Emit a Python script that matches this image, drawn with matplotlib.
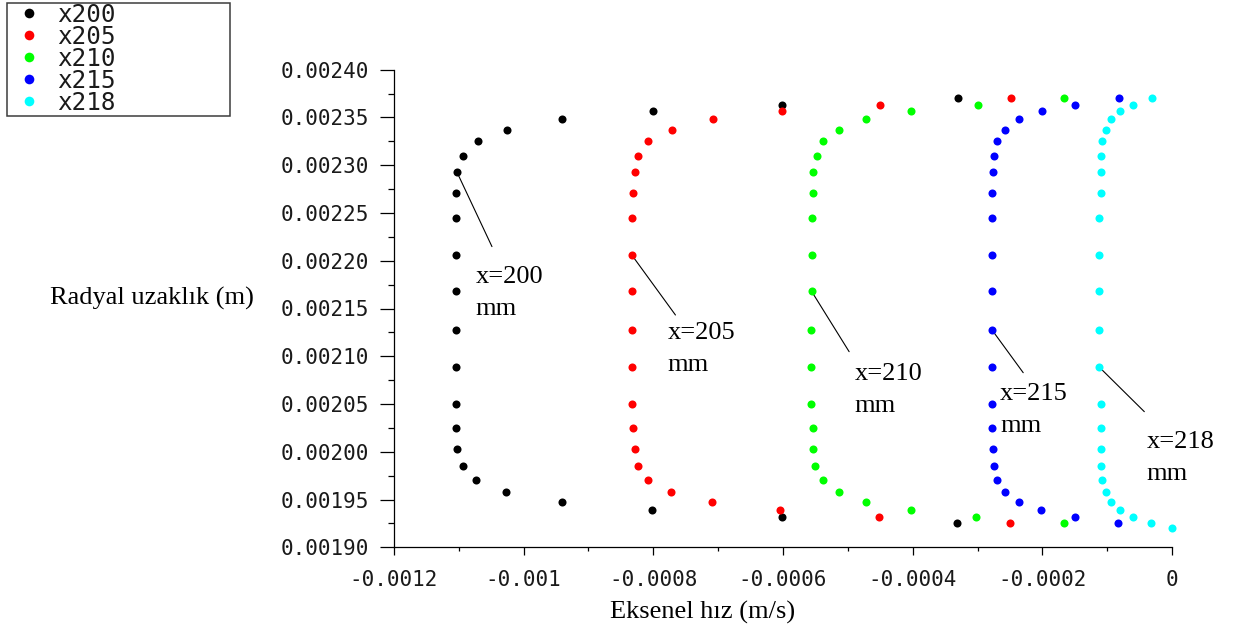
import matplotlib
matplotlib.use("Agg")
import matplotlib.pyplot as plt
from matplotlib.ticker import MultipleLocator, FuncFormatter
from matplotlib.patches import Rectangle

# ---------------- data ----------------
radial = [0.0023705, 0.0023635, 0.0023563, 0.0023482, 0.0023373, 0.0023251,
          0.0023101, 0.0022929, 0.0022707, 0.0022451, 0.0022058, 0.0021681,
          0.0021279, 0.0020885, 0.0020504, 0.0020249, 0.0020029, 0.0019854,
          0.0019702, 0.0019579, 0.0019471, 0.0019391, 0.0019317, 0.0019254]
radial_218 = radial + [0.0019202]

x200 = [-0.000330, -0.000601, -0.000800, -0.000941, -0.001026, -0.001071,
        -0.001093, -0.001103, -0.001105, -0.001105, -0.001105, -0.001105,
        -0.001105, -0.001105, -0.001105, -0.001105, -0.001103, -0.001093,
        -0.001073, -0.001027, -0.000941, -0.000802, -0.000602, -0.000332]
x205 = [-0.000248, -0.000450, -0.000602, -0.000708, -0.000771, -0.000808,
        -0.000823, -0.000829, -0.000831, -0.000833, -0.000833, -0.000833,
        -0.000833, -0.000833, -0.000833, -0.000831, -0.000829, -0.000823,
        -0.000808, -0.000773, -0.000709, -0.000605, -0.000452, -0.000250]
x210 = [-0.000166, -0.000300, -0.000402, -0.000472, -0.000514, -0.000538,
        -0.000548, -0.000554, -0.000554, -0.000556, -0.000556, -0.000556,
        -0.000557, -0.000557, -0.000557, -0.000554, -0.000554, -0.000550,
        -0.000538, -0.000514, -0.000472, -0.000402, -0.000303, -0.000167]
x215 = [-0.000082, -0.000150, -0.000200, -0.000236, -0.000258, -0.000270,
        -0.000274, -0.000276, -0.000278, -0.000278, -0.000278, -0.000278,
        -0.000278, -0.000278, -0.000278, -0.000277, -0.000276, -0.000274,
        -0.000270, -0.000258, -0.000236, -0.000202, -0.000150, -0.000084]
x218 = [-0.000031, -0.000060, -0.000080, -0.000094, -0.000102, -0.000108,
        -0.000110, -0.000110, -0.000110, -0.000112, -0.000112, -0.000112,
        -0.000112, -0.000112, -0.000110, -0.000110, -0.000110, -0.000109,
        -0.000108, -0.000102, -0.000094, -0.000080, -0.000060, -0.000033, 0.0]

series_labels = ["x200", "x205", "x210", "x215", "x218"]
series_x = [x200, x205, x210, x215, x218]
series_y = [radial, radial, radial, radial, radial_218]
series_colors = ["#000000", "#ff0000", "#00ff00", "#0000ff", "#00ffff"]

annot_texts = ["x=200\nmm", "x=205\nmm", "x=210\nmm", "x=215\nmm", "x=218\nmm"]
annot_point_idx = [7, 10, 11, 12, 13]
annot_line_end = [(-0.0010489, 0.0022148), (-0.0007659, 0.0021432),
                  (-0.0004980, 0.0021048), (-0.0002295, 0.0020828),
                  (-0.0000427, 0.0020420)]
annot_text_pos = [(-0.0010741, 0.0021949), (-0.0007782, 0.0021362),
                  (-0.0004892, 0.0020927), (-0.0002654, 0.0020717),
                  (-0.0000390, 0.0020218)]

x_ticks = [-0.0012, -0.001, -0.0008, -0.0006, -0.0004, -0.0002, 0]
x_ticklabels = ["-0.0012", "-0.001", "-0.0008", "-0.0006", "-0.0004", "-0.0002", "0"]
y_ticks = [0.00190, 0.00195, 0.00200, 0.00205, 0.00210, 0.00215,
           0.00220, 0.00225, 0.00230, 0.00235, 0.00240]

# ---------------- figure ----------------
W, H = 1234, 628
fig = plt.figure(figsize=(W / 100, H / 100), dpi=100)
ax_l, ax_r, ax_b, ax_t = 394, 1172, 547.3, 69.7
ax = fig.add_axes([ax_l / W, 1 - ax_b / H, (ax_r - ax_l) / W, (ax_b - ax_t) / H])

serif = ["Liberation Serif", "DejaVu Serif"]
mono = ["DejaVu Sans Mono"]

lines = []
for xs, ys, c, lab in zip(series_x, series_y, series_colors, series_labels):
    ln, = ax.plot(xs, ys, linestyle="none", marker="o", ms=5.8, mew=0,
                  color=c, label=lab, clip_on=False, zorder=3)
    lines.append(ln)

ax.set_xlim(-0.0012, 0)
ax.set_ylim(0.0019, 0.0024)

for s in ["top", "right"]:
    ax.spines[s].set_visible(False)
for s in ["left", "bottom"]:
    ax.spines[s].set_linewidth(0.9)
    ax.spines[s].set_color("#000000")

ax.set_xticks(x_ticks)
ax.set_xticklabels(x_ticklabels)
ax.xaxis.set_minor_locator(MultipleLocator(0.0001))
ax.set_yticks(y_ticks)
ax.yaxis.set_major_formatter(FuncFormatter(lambda v, p: f"{v:.5f}"))
ax.yaxis.set_minor_locator(MultipleLocator(0.000025))

ax.tick_params(axis="x", which="major", direction="out", length=5.5, width=0.9, pad=11)
ax.tick_params(axis="x", which="minor", direction="out", length=3, width=0.9)
ax.tick_params(axis="y", which="major", direction="out", length=10, width=0.9, pad=8)
ax.tick_params(axis="y", which="minor", direction="out", length=4.2, width=0.9)
for lbl in ax.get_xticklabels() + ax.get_yticklabels():
    lbl.set_family(mono)
    lbl.set_fontsize(15)
    lbl.set_color("#1a1a1a")

ax.set_xlabel("Eksenel hız (m/s)", family=serif, fontsize=19, ha="left", va="baseline")
ax.xaxis.set_label_coords((610 - ax_l) / (ax_r - ax_l), (ax_b - 618.3) / (ax_b - ax_t))
ax.set_ylabel("Radyal uzaklık (m)", family=serif, fontsize=19, rotation=0,
              ha="left", va="baseline")
ax.yaxis.set_label_coords((50 - ax_l) / (ax_r - ax_l), (ax_b - 305) / (ax_b - ax_t))

# annotations
for txt, idx, lend, tpos, xs, ys in zip(annot_texts, annot_point_idx, annot_line_end,
                                         annot_text_pos, series_x, series_y):
    ax.annotate("", xy=(xs[idx], ys[idx]), xytext=lend,
                arrowprops=dict(arrowstyle="-", color="#000000", lw=0.8,
                                shrinkA=0, shrinkB=0), zorder=2)
    ax.text(tpos[0], tpos[1], txt, family=serif, fontsize=19, ha="left", va="top",
            linespacing=1.6, zorder=4)

# legend (outside, top-left of figure)
leg = ax.legend(handles=lines, loc="upper left",
                bbox_to_anchor=(17.0 / W, 1 - 2.5 / H), bbox_transform=fig.transFigure,
                frameon=False, prop={"family": mono, "size": 17.5},
                handlelength=1.0, handletextpad=0.64, labelspacing=-0.08,
                borderpad=0, borderaxespad=0, markerscale=1.2)
for t in leg.get_texts():
    t.set_color("#1a1a1a")
fig.patches.append(Rectangle((7 / W, 1 - 115.7 / H), (230 - 7) / W, (115.7 - 3) / H,
                             transform=fig.transFigure, fill=False,
                             edgecolor="#3c3c3c", linewidth=1.1))

fig.savefig("out.png", dpi=100)
